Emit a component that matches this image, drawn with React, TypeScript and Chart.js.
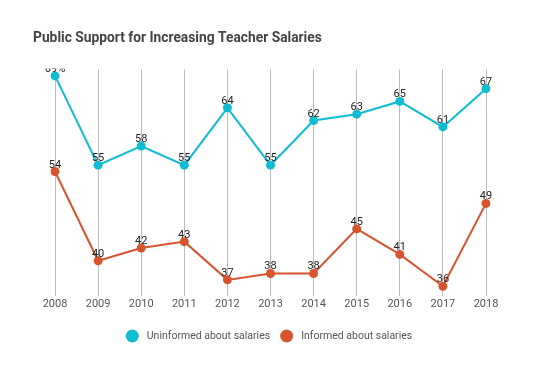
import React, { useEffect, useRef } from "react";
import { Chart, registerables } from "chart.js";

Chart.register(...registerables);

const years = ["2008", "2009", "2010", "2011", "2012", "2013", "2014", "2015", "2016", "2017", "2018"];
const uninformed = [69, 55, 58, 55, 64, 55, 62, 63, 65, 61, 67];
const informed = [54, 40, 42, 43, 37, 38, 38, 45, 41, 36, 49];
const uninformedLabels = ["69%", "55", "58", "55", "64", "55", "62", "63", "65", "61", "67"];
const informedLabels = ["54", "40", "42", "43", "37", "38", "38", "45", "41", "36", "49"];
const seriesNames = ["Uninformed about salaries", "Informed about salaries"];
const title = "Public Support for Increasing Teacher Salaries";

const TEAL = "#0fbcd2";
const ORANGE = "#d6552f";
const FONT = "Roboto, 'Open Sans', sans-serif";

const labelPlugin = {
  id: "valueLabels",
  afterDatasetsDraw(chart: any) {
    const ctx = chart.ctx;
    const area = chart.chartArea;
    const labelSets = [uninformedLabels, informedLabels];
    ctx.save();
    ctx.beginPath();
    ctx.rect(0, area.top - 1, chart.width, chart.height);
    ctx.clip();
    ctx.font = `11px ${FONT}`;
    ctx.fillStyle = "#222";
    ctx.textAlign = "center";
    ctx.textBaseline = "alphabetic";
    chart.data.datasets.forEach((ds: any, i: number) => {
      const meta = chart.getDatasetMeta(i);
      meta.data.forEach((pt: any, j: number) => {
        ctx.fillText(labelSets[i][j], pt.x, pt.y - 4);
      });
    });
    ctx.restore();
  },
};

const legendPlugin = {
  id: "customLegend",
  afterDraw(chart: any) {
    const ctx = chart.ctx;
    const colors = [TEAL, ORANGE];
    ctx.save();
    ctx.font = `10.5px ${FONT}`;
    const r = 6.5;
    const gapText = 8;
    const gapItem = 10;
    const widths = seriesNames.map((n) => ctx.measureText(n).width);
    const total = widths.reduce((a, w) => a + 2 * r + gapText + w, 0) + gapItem * (seriesNames.length - 1);
    let x = (chart.width - total) / 2;
    const y = 336;
    ctx.textBaseline = "middle";
    ctx.textAlign = "left";
    seriesNames.forEach((n, i) => {
      ctx.fillStyle = colors[i];
      ctx.beginPath();
      ctx.arc(x + r, y, r, 0, Math.PI * 2);
      ctx.fill();
      x += 2 * r + gapText;
      ctx.fillStyle = "#555";
      ctx.fillText(n, x, y);
      x += widths[i] + gapItem;
    });
    ctx.restore();
  },
};

export default function App() {
  const ref = useRef<HTMLCanvasElement>(null);
  useEffect(() => {
    const chart = new Chart(ref.current!, {
      type: "line",
      data: {
        labels: years,
        datasets: [
          {
            label: seriesNames[0],
            data: uninformed,
            borderColor: TEAL,
            backgroundColor: TEAL,
            pointBackgroundColor: TEAL,
            pointBorderWidth: 0,
            pointRadius: 4.5,
            borderWidth: 2,
            tension: 0,
          },
          {
            label: seriesNames[1],
            data: informed,
            borderColor: ORANGE,
            backgroundColor: ORANGE,
            pointBackgroundColor: ORANGE,
            pointBorderWidth: 0,
            pointRadius: 4.5,
            borderWidth: 2,
            tension: 0,
          },
        ],
      },
      options: {
        animation: false,
        responsive: false,
        maintainAspectRatio: false,
        layout: { padding: { left: 33, right: 52, top: 20, bottom: 53 } },
        plugins: {
          title: {
            display: true,
            text: title,
            align: "start",
            color: "#444",
            font: { family: FONT, size: 13.8, weight: "bold" },
            padding: { top: 10, bottom: 23 },
          },
          legend: { display: false },
          tooltip: { enabled: false },
        },
        scales: {
          x: {
            offset: false,
            grid: { display: true, color: "#bdbdbd", lineWidth: 1, drawTicks: false },
            border: { display: false },
            ticks: { color: "#555", font: { family: FONT, size: 11 }, padding: 2 },
          },
          y: {
            min: 34.5,
            max: 70,
            grid: { display: false },
            border: { display: false },
            ticks: { display: false },
            afterFit: (s: any) => {
              s.width = 22;
            },
          },
        },
      },
      plugins: [labelPlugin, legendPlugin],
    } as any);
    return () => chart.destroy();
  }, []);
  return (
    <div style={{ position: "fixed", left: 0, top: 0, width: 538, height: 366, background: "#fff" }}>
      <canvas ref={ref} width={538} height={366} />
    </div>
  );
}
